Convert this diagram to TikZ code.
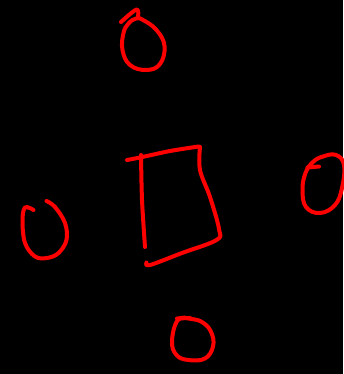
\documentclass[tikz,border=0pt]{standalone}
\usepackage{xcolor}
\usepackage{tikz}

\begin{document}
\begin{tikzpicture}[
    x=1pt, y=-1pt,
    stroke/.style={draw=red, line width=4pt, line cap=round, line join=round},
    backdrop/.style={fill=black, draw=none}
]
\path[backdrop] (0,0) rectangle (343,374);
\useasboundingbox (0,0) rectangle (343,374);

% top loop with its tail
\draw[stroke] plot[smooth, tension=0.6] coordinates {(121,22) (136.5,9.5) (138,17)};
\draw[stroke] plot[smooth cycle, tension=0.7] coordinates {(143,20) (156.5,30) (164.5,46) (160,64) (146.5,70) (130,65) (122.5,50) (123.5,33) (128.5,23.5) (136,18.5)};

% middle box
\draw[stroke] plot[smooth, tension=0.4] coordinates {(127,160) (140,157.5) (170,151) (198.5,146.5)}
    -- (200,147) plot[smooth, tension=0.6] coordinates {(200,147) (200,170) (210,197) (219,229) (216.5,240) (182,253) (150,265) (146.5,262.5)};
\draw[stroke] plot[smooth, tension=0.5] coordinates {(141,155) (142,200) (145,247)};

% right loop
\draw[stroke] (307.5,167.5) -- (319,166.5);
\draw[stroke] plot[smooth cycle, tension=0.7] coordinates {(323,156.5) (336,155) (344,165) (342,188) (335,205) (320,213) (306,207) (302.5,190) (305.5,173) (313,162)};

% left hook
\draw[stroke] plot[smooth, tension=0.6] coordinates {(33.5,210) (25,207.5) (22.5,221) (25,243) (35,256.5) (47,258) (58.5,253) (66.5,240) (65,223) (55,207) (46.5,201)};

% bottom loop
\draw[stroke] (177,318.5) -- (190,318);
\draw[stroke] plot[smooth cycle, tension=0.7] coordinates {(178,320) (172,341) (176.5,355) (188.5,360) (205,358.5) (213,346.5) (211.5,333) (203.5,323) (191.5,319)};
\end{tikzpicture}
\end{document}
